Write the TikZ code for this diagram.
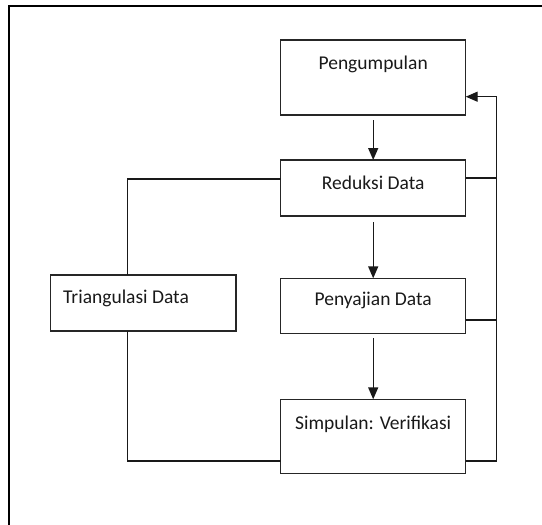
\documentclass[tikz,border=0pt]{standalone}
\usepackage{fontspec}
\setmainfont{Carlito}
\usetikzlibrary{arrows.meta}
\begin{document}
\begin{tikzpicture}[x=1pt,y=-1pt,
  boxstyle/.style={draw=black!85,line width=1.4pt,minimum width=185pt,inner sep=0pt,outer sep=0pt},
  txt/.style={font=\fontsize{19.5}{22}\selectfont,text=black!90,inner sep=0pt},
  conn/.style={draw=black!90,line width=1.4pt},
  arr/.style={conn,-{Triangle[width=10pt,length=12pt]}}]
\useasboundingbox (0,0) rectangle (542,525);
\draw[line width=2pt] (8.7,525) -- (8.7,5.7) -- (542,5.7);
% boxes
\node[boxstyle,minimum height=75pt] (peng) at (373.2,77.5) {};
\node[boxstyle,minimum height=56pt] (red) at (373.2,188) {};
\node[boxstyle,minimum height=55pt] (peny) at (373.2,305.8) {};
\node[boxstyle,minimum height=74pt] (simp) at (373.2,436.3) {};
\node[boxstyle,minimum width=185.3pt,minimum height=56pt] (tri) at (143.3,303) {};
% texts
\node[txt] (tpeng) at (373.2,64) {Pengumpulan};
\node[txt] (tred) at (373.2,183) {Reduksi Data};
\node[txt] (tpeny) at (373.2,300) {Penyajian Data};
\node[txt] (tsimp) at (373.2,424) {Simpulan: Verifikasi};
\node[txt,anchor=west] (ttri) at (63,298) {Triangulasi Data};
% coordinates
\coordinate (rtop) at (496.7,96.7);
\coordinate (rred) at (496.7,178);
\coordinate (rpeny) at (496.7,320);
\coordinate (rsimp) at (496.7,461);
\coordinate (ltop) at (127.7,179);
\coordinate (lbot) at (127.7,461);
% vertical arrows
\draw[arr] ([yshift=-5pt]peng.south) -- (red.north);
\draw[arr] ([yshift=-6pt]red.south) -- (peny.north);
\draw[arr] ([yshift=-5pt]peny.south) -- (simp.north);
% right feedback
\draw[conn] (red.east |- rred) -- (rred);
\draw[conn] (peny.east |- rpeny) -- (rpeny);
\draw[arr] (simp.east |- rsimp) -- (rsimp) -- (rtop) -- (peng.east |- rtop);
% left loop
\draw[conn] (red.west |- ltop) -- (ltop) -- (tri.north -| ltop);
\draw[conn] (tri.south -| lbot) -- (lbot) -- (simp.west |- lbot);
\end{tikzpicture}
\end{document}
